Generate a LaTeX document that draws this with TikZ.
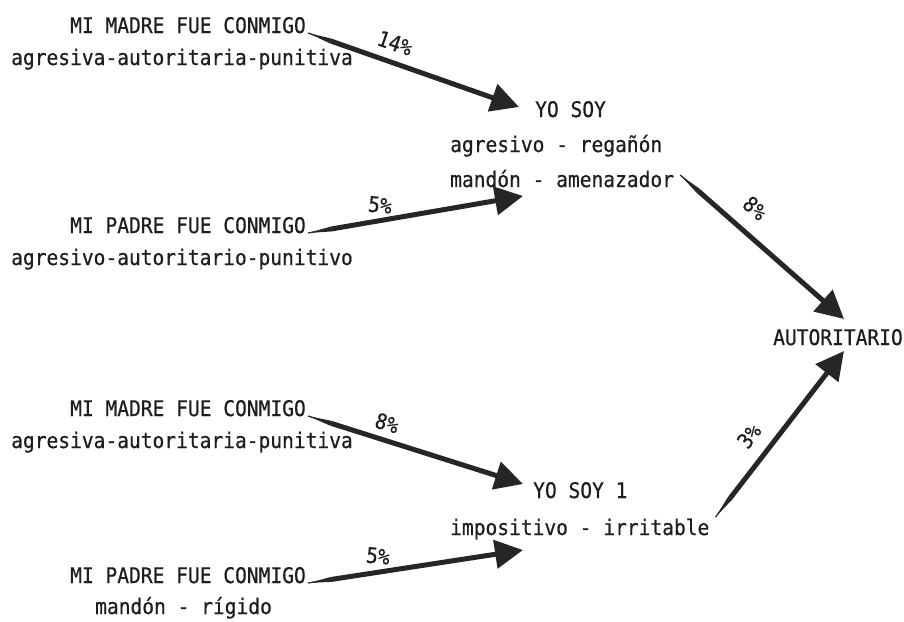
\documentclass[tikz,border=0pt]{standalone}
\usepackage{fontspec}
\setmainfont[FakeStretch=0.91,FakeBold=0.6]{DejaVu Sans Mono}
\usetikzlibrary{arrows.meta,calc}
\definecolor{ink}{HTML}{1E1E1E}
\definecolor{pen}{HTML}{262626}
\tikzset{
  txt/.style={anchor=base west, inner sep=0pt, font=\fontsize{21.5}{25}\selectfont, text=ink},
  pct/.style={inner sep=0pt, font=\fontsize{21.5}{25}\selectfont, text=ink},
  conn/.style={draw=pen, line width=5pt, -{Triangle[length=28pt,width=28pt]}},
}
\newcommand\taperconn[3]{%
  \coordinate (#3m) at ($(#1)!24pt!(#2)$);
  \draw[pen, line width=1.2pt] (#1) -- (#3m);
  \fill[pen] (#1) -- ($(#3m)!2.5pt!90:(#2)$) -- ($(#3m)!2.5pt!-90:(#2)$) -- cycle;
  \draw[conn] (#3m) -- (#2);}
\begin{document}
\begin{tikzpicture}[x=1pt,y=-1pt]
\useasboundingbox (0,0) rectangle (904,621);
% top group
\node[txt] (m1a) at (70,33) {MI MADRE FUE CONMIGO};
\node[txt] (m1b) at (11,65) {agresiva-autoritaria-punitiva};
\node[txt] (y1a) at (535,117) {YO SOY};
\node[txt] (y1b) at (450,152) {agresivo - regañón};
\node[txt] (y1c) at (450,187) {mandón - amenazador};
\node[txt] (p1a) at (70,233) {MI PADRE FUE CONMIGO};
\node[txt] (p1b) at (11,265) {agresivo-autoritario-punitivo};
% result
\node[txt] (aut) at (773,345) {AUTORITARIO};
% bottom group
\node[txt] (m2a) at (70,416) {MI MADRE FUE CONMIGO};
\node[txt] (m2b) at (11,448) {agresiva-autoritaria-punitiva};
\node[txt] (y2a) at (533,498) {YO SOY 1};
\node[txt] (y2b) at (450,535) {impositivo - irritable};
\node[txt] (p2a) at (70,583) {MI PADRE FUE CONMIGO};
\node[txt] (p2b) at (95,614) {mandón - rígido};
% connector ends
\coordinate (a1s) at ([xshift=2pt]m1a.base east);
\coordinate (a1t) at ([xshift=-16pt,yshift=10pt]y1a.base west);
\coordinate (a2s) at ([xshift=2pt]p1a.base east);
\coordinate (a2t) at ([xshift=73pt,yshift=-9pt]y1c.base west);
\coordinate (a3s) at ([xshift=6pt,yshift=12pt]y1c.base east);
\coordinate (a3t) at ([xshift=71pt,yshift=26pt]aut.base west);
\coordinate (a4s) at ([xshift=2pt]m2a.base east);
\coordinate (a4t) at ([xshift=-10pt,yshift=14pt]y2a.base west);
\coordinate (a5s) at ([xshift=2pt]p2a.base east);
\coordinate (a5t) at ([xshift=73pt,yshift=-15pt]y2b.base west);
\coordinate (a6s) at ([xshift=6pt,yshift=18pt]y2b.base east);
\coordinate (a6t) at ([xshift=71pt,yshift=-6pt]aut.base west);
\taperconn{a1s}{a1t}{c1}
\taperconn{a2s}{a2t}{c2}
\taperconn{a3s}{a3t}{c3}
\taperconn{a4s}{a4t}{c4}
\taperconn{a5s}{a5t}{c5}
\taperconn{a6s}{a6t}{c6}
% labels
\node[pct, rotate=-19] (l1) at (395,43) {14\%};
\node[pct, rotate=-6] (l2) at (380,205) {5\%};
\node[pct, rotate=-41] (l3) at (755,208) {8\%};
\node[pct, rotate=-17] (l4) at (387,423) {8\%};
\node[pct, rotate=-6] (l5) at (378,556) {5\%};
\node[pct, rotate=52] (l6) at (749,436) {3\%};
\end{tikzpicture}
\end{document}
